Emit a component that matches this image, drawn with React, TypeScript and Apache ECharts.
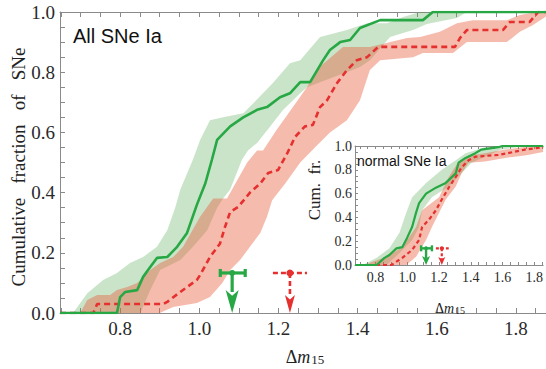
import React, { useEffect, useRef } from "react";
import * as echarts from "echarts";

type P = [number, number];

// ---- axis ticks / labels ----
const mainXLabels = [0.8, 1.0, 1.2, 1.4, 1.6, 1.8];
const mainXTicks = [0.65, 0.7, 0.75, 0.8, 0.85, 0.9, 0.95, 1.0, 1.05, 1.1, 1.15, 1.2, 1.25, 1.3, 1.35, 1.4, 1.45, 1.5, 1.55, 1.6, 1.65, 1.7, 1.75, 1.8, 1.85];
const yTicks = [0, 0.05, 0.1, 0.15, 0.2, 0.25, 0.3, 0.35, 0.4, 0.45, 0.5, 0.55, 0.6, 0.65, 0.7, 0.75, 0.8, 0.85, 0.9, 0.95, 1.0];
const insetXLabels = [0.8, 1.0, 1.2, 1.4, 1.6, 1.8];
const insetXTicks = [0.7, 0.75, 0.8, 0.85, 0.9, 0.95, 1.0, 1.05, 1.1, 1.15, 1.2, 1.25, 1.3, 1.35, 1.4, 1.45, 1.5, 1.55, 1.6, 1.65, 1.7, 1.75, 1.8, 1.85];

// ---- main panel: All SNe Ia ----
const allGreenLine: P[] = [[0.648, 0], [0.792, 0], [0.8, 0.053], [0.813, 0.07], [0.843, 0.076], [0.858, 0.12], [0.876, 0.153], [0.893, 0.183], [0.919, 0.186], [0.944, 0.22], [0.969, 0.266], [0.994, 0.36], [1.015, 0.43], [1.032, 0.51], [1.045, 0.575], [1.078, 0.62], [1.111, 0.65], [1.146, 0.675], [1.171, 0.684], [1.204, 0.717], [1.229, 0.73], [1.255, 0.767], [1.28, 0.767], [1.313, 0.84], [1.33, 0.874], [1.356, 0.9], [1.381, 0.907], [1.406, 0.947], [1.457, 0.973], [1.565, 0.973], [1.59, 1.0], [1.876, 1.0]];
const allGreenUpper: P[] = [[0.681, 0], [0.717, 0.066], [0.757, 0.11], [0.792, 0.133], [0.825, 0.166], [0.858, 0.186], [0.893, 0.22], [0.919, 0.275], [0.939, 0.35], [0.952, 0.41], [0.984, 0.51], [1.002, 0.575], [1.027, 0.64], [1.06, 0.65], [1.111, 0.664], [1.146, 0.71], [1.186, 0.764], [1.229, 0.83], [1.255, 0.84], [1.305, 0.917], [1.373, 0.94], [1.424, 0.963], [1.474, 0.963], [1.515, 0.983], [1.558, 1.0], [1.876, 1.0]];
const allGreenLower: P[] = [[0.851, 0], [0.876, 0.076], [0.901, 0.143], [0.952, 0.176], [0.984, 0.22], [1.02, 0.275], [1.045, 0.35], [1.06, 0.38], [1.078, 0.41], [1.108, 0.51], [1.123, 0.54], [1.146, 0.565], [1.179, 0.62], [1.212, 0.675], [1.255, 0.73], [1.272, 0.75], [1.406, 0.817], [1.431, 0.84], [1.482, 0.917], [1.54, 0.94], [1.575, 0.96], [1.651, 0.98], [1.676, 1.0], [1.876, 1.0]];
const allRedLine: P[] = [[0.648, 0], [0.732, 0], [0.742, 0.03], [0.909, 0.03], [0.919, 0.037], [0.952, 0.07], [0.994, 0.11], [1.002, 0.126], [1.027, 0.186], [1.052, 0.23], [1.065, 0.286], [1.078, 0.336], [1.098, 0.352], [1.128, 0.4], [1.154, 0.43], [1.174, 0.465], [1.199, 0.475], [1.222, 0.53], [1.242, 0.585], [1.267, 0.62], [1.287, 0.625], [1.305, 0.684], [1.323, 0.707], [1.348, 0.764], [1.373, 0.807], [1.398, 0.84], [1.424, 0.85], [1.452, 0.884], [1.646, 0.884], [1.659, 0.914], [1.676, 0.94], [1.767, 0.94], [1.785, 0.967], [1.835, 0.967], [1.856, 1.0], [1.876, 1.0]];
const allRedUpper: P[] = [[0.699, 0], [0.717, 0.043], [0.742, 0.06], [0.775, 0.06], [0.792, 0.076], [0.818, 0.086], [0.843, 0.1], [0.876, 0.143], [0.901, 0.166], [0.934, 0.186], [0.959, 0.22], [1.002, 0.32], [1.035, 0.38], [1.07, 0.38], [1.121, 0.5], [1.146, 0.54], [1.161, 0.54], [1.196, 0.61], [1.229, 0.67], [1.272, 0.75], [1.297, 0.81], [1.363, 0.884], [1.431, 0.884], [1.525, 0.914], [1.558, 0.917], [1.608, 0.934], [1.651, 0.963], [1.691, 0.973], [1.777, 0.973], [1.81, 0.99], [1.853, 1.0], [1.876, 1.0]];
const allRedLower: P[] = [[0.9, 0], [0.934, 0.02], [0.994, 0.033], [1.027, 0.053], [1.058, 0.1], [1.078, 0.143], [1.103, 0.176], [1.128, 0.22], [1.154, 0.266], [1.171, 0.32], [1.184, 0.375], [1.217, 0.43], [1.255, 0.5], [1.292, 0.55], [1.33, 0.6], [1.373, 0.64], [1.406, 0.707], [1.431, 0.807], [1.457, 0.84], [1.54, 0.85], [1.565, 0.864], [1.641, 0.864], [1.676, 0.9], [1.777, 0.9], [1.81, 0.934], [1.843, 0.957], [1.876, 0.985]];

// ---- inset: normal SNe Ia ----
const normGreenLine: P[] = [[0.67, 0], [0.806, 0], [0.856, 0.06], [0.887, 0.084], [0.931, 0.14], [0.968, 0.15], [0.999, 0.23], [1.03, 0.32], [1.055, 0.44], [1.074, 0.52], [1.118, 0.6], [1.18, 0.65], [1.242, 0.69], [1.305, 0.77], [1.323, 0.86], [1.367, 0.9], [1.429, 0.94], [1.467, 0.97], [1.573, 0.99], [1.6, 1.0], [1.856, 1.0]];
const normGreenUpper: P[] = [[0.72, 0], [0.806, 0.06], [0.887, 0.14], [0.95, 0.27], [0.993, 0.44], [1.03, 0.57], [1.118, 0.69], [1.217, 0.8], [1.305, 0.88], [1.367, 0.94], [1.49, 0.99], [1.55, 1.0], [1.856, 1.0]];
const normGreenLower: P[] = [[0.868, 0], [0.95, 0.1], [1.03, 0.21], [1.074, 0.32], [1.093, 0.46], [1.155, 0.57], [1.261, 0.66], [1.342, 0.77], [1.404, 0.86], [1.49, 0.91], [1.59, 0.97], [1.697, 0.99], [1.75, 1.0], [1.856, 1.0]];
const normRedLine: P[] = [[0.67, 0], [0.9, 0], [0.968, 0.06], [1.03, 0.126], [1.074, 0.21], [1.093, 0.32], [1.136, 0.38], [1.18, 0.46], [1.217, 0.55], [1.261, 0.65], [1.305, 0.74], [1.342, 0.82], [1.386, 0.88], [1.429, 0.91], [1.573, 0.925], [1.635, 0.94], [1.741, 0.97], [1.856, 0.99]];
const normRedUpper: P[] = [[0.74, 0], [0.76, 0.017], [0.868, 0.07], [0.968, 0.15], [1.055, 0.32], [1.093, 0.46], [1.2, 0.57], [1.261, 0.74], [1.323, 0.87], [1.386, 0.92], [1.49, 0.94], [1.616, 0.97], [1.78, 1.0], [1.856, 1.0]];
const normRedLower: P[] = [[0.993, 0], [1.055, 0.07], [1.118, 0.21], [1.155, 0.32], [1.2, 0.44], [1.242, 0.55], [1.305, 0.66], [1.342, 0.77], [1.386, 0.86], [1.49, 0.87], [1.616, 0.9], [1.741, 0.92], [1.856, 0.95]];

// ---- median markers: [centre, low, high, level] ----
const allGreenMarker = [[1.083, 1.053, 1.116, 0.133]];
const allRedMarker = [[1.229, 1.186, 1.272, 0.133]];
const normGreenMarker = [[1.118, 1.087, 1.155, 0.14]];
const normRedMarker = [[1.217, 1.18, 1.261, 0.14]];

const GREEN = "#27a844";
const RED = "#e5302f";
const GREEN_BAND = "rgba(80,165,80,0.30)";
const RED_BAND = "rgba(232,92,60,0.42)";
const AXIS = "#8a8a8a";
const SERIF = "Liberation Serif";
const SANS = "Liberation Sans";

function band(upper: P[], lower: P[], fill: string, ax: number, z: number, blend?: string) {
  return {
    type: "custom",
    xAxisIndex: ax,
    yAxisIndex: ax,
    z,
    silent: true,
    data: [[upper[0][0], upper[0][1]]],
    renderItem: (_p: any, api: any) => {
      const pts = [...upper, ...lower.slice().reverse()].map((p) => api.coord(p));
      const style: any = { fill };
      if (blend) style.blend = blend;
      return { type: "polygon", shape: { points: pts }, style };
    },
  };
}

function line(data: P[], color: string, dashed: boolean, ax: number, w: number, dash: number[]) {
  return {
    type: "line",
    xAxisIndex: ax,
    yAxisIndex: ax,
    z: 6,
    data,
    symbol: "none",
    silent: true,
    lineStyle: { color, width: w, type: dashed ? dash : "solid" },
  };
}

function marker(data: number[][], color: string, dashed: boolean, ax: number, s: any) {
  return {
    type: "custom",
    xAxisIndex: ax,
    yAxisIndex: ax,
    z: 8,
    silent: true,
    data,
    renderItem: (_p: any, api: any) => {
      const c = api.value(0), lo = api.value(1), hi = api.value(2), lev = api.value(3);
      const pc = api.coord([c, lev]);
      const pl = api.coord([lo, lev]);
      const ph = api.coord([hi, lev]);
      const pb = api.coord([c, 0]);
      const ls: any = { stroke: color, lineWidth: s.lw, fill: null };
      if (dashed) ls.lineDash = s.dash;
      const children: any[] = [
        { type: "line", shape: { x1: pl[0], y1: pl[1], x2: ph[0], y2: ph[1] }, style: ls },
        { type: "line", shape: { x1: pc[0], y1: pc[1], x2: pc[0], y2: pb[1] - s.head + 2 }, style: ls },
        { type: "polygon", shape: { points: [[pc[0] - s.hw, pb[1] - s.head], [pc[0], pb[1] - s.head * 0.75], [pc[0] + s.hw, pb[1] - s.head], [pc[0], pb[1]]] }, style: { fill: color } },
        { type: "circle", shape: { cx: pc[0], cy: pc[1], r: s.r }, style: { fill: color } },
      ];
      if (!dashed) {
        children.push({ type: "line", shape: { x1: pl[0], y1: pl[1] - s.cap, x2: pl[0], y2: pl[1] + s.cap }, style: { stroke: color, lineWidth: s.lw } });
        children.push({ type: "line", shape: { x1: ph[0], y1: ph[1] - s.cap, x2: ph[0], y2: ph[1] + s.cap }, style: { stroke: color, lineWidth: s.lw } });
      }
      return { type: "group", children };
    },
  };
}

function dm(x: number, y: number, big: number, small: number) {
  return {
    type: "text",
    x,
    y,
    z: 30,
    style: {
      text: "{d|Δ}{m|m}{s|15}",
      align: "center",
      verticalAlign: "middle",
      rich: {
        d: { fontFamily: SERIF, fontSize: big, fill: "#222", verticalAlign: "bottom", lineHeight: big + 6 },
        m: { fontFamily: SERIF, fontStyle: "italic", fontSize: big, fill: "#222", verticalAlign: "bottom", lineHeight: big + 6 },
        s: { fontFamily: SERIF, fontSize: small, fill: "#222", verticalAlign: "bottom", lineHeight: small, padding: [0, 0, 0, 1] },
      },
    },
  };
}

export default function App() {
  const ref = useRef<HTMLDivElement>(null);
  useEffect(() => {
    if (!ref.current) return;
    const chart = echarts.init(ref.current, undefined, { renderer: "svg" });
    const axisLine = { show: true, lineStyle: { color: AXIS, width: 1 } };
    const option: any = {
      animation: false,
      backgroundColor: "#fff",
      textStyle: { fontFamily: SERIF },
      grid: [
        { left: 60, top: 12, width: 486, height: 301, containLabel: false },
        { left: 355, top: 146, width: 191, height: 119, containLabel: false },
      ],
      xAxis: [
        {
          gridIndex: 0, type: "value", min: 0.648, max: 1.876, position: "bottom",
          axisLine, splitLine: { show: false },
          axisTick: { show: true, inside: true, length: 5, lineStyle: { color: AXIS }, customValues: mainXTicks },
          axisLabel: { customValues: mainXLabels, formatter: (v: number) => v.toFixed(1), fontFamily: SERIF, fontSize: 19, color: "#2a2a2a", margin: 6 },
        },
        {
          gridIndex: 1, type: "value", min: 0.67, max: 1.856, position: "bottom", z: 20,
          axisLine, splitLine: { show: false },
          axisTick: { show: true, inside: true, length: 3, lineStyle: { color: AXIS }, customValues: insetXTicks },
          axisLabel: { customValues: insetXLabels, formatter: (v: number) => v.toFixed(1), fontFamily: SERIF, fontSize: 14, color: "#2a2a2a", margin: 5 },
        },
        {
          gridIndex: 0, type: "value", min: 0.648, max: 1.876, position: "top",
          axisLine, splitLine: { show: false },
          axisTick: { show: true, inside: true, length: 5, lineStyle: { color: AXIS }, customValues: mainXTicks },
          axisLabel: { show: false },
        },
        {
          gridIndex: 1, type: "value", min: 0.67, max: 1.856, position: "top", z: 20,
          axisLine, splitLine: { show: false },
          axisTick: { show: true, inside: true, length: 3, lineStyle: { color: AXIS }, customValues: insetXTicks },
          axisLabel: { show: false },
        },
      ],
      yAxis: [
        {
          gridIndex: 0, type: "value", min: 0, max: 1, interval: 0.2,
          axisLine, splitLine: { show: false },
          axisTick: { show: true, inside: true, length: 5, lineStyle: { color: AXIS }, customValues: yTicks },
          axisLabel: { formatter: (v: number) => v.toFixed(1), fontFamily: SERIF, fontSize: 19, color: "#2a2a2a", margin: 5 },
        },
        {
          gridIndex: 1, type: "value", min: 0, max: 1, interval: 0.2, z: 20,
          axisLine, splitLine: { show: false },
          axisTick: { show: true, inside: true, length: 3, lineStyle: { color: AXIS }, customValues: yTicks },
          axisLabel: { formatter: (v: number) => v.toFixed(1), fontFamily: SERIF, fontSize: 14, color: "#2a2a2a", margin: 3 },
        },
      ],
      graphic: [
        { type: "text", x: 73, y: 36, z: 30, style: { text: "All SNe Ia", fontFamily: SANS, fontSize: 20, fill: "#111", verticalAlign: "middle" } },
        { type: "text", x: 357, y: 161, z: 30, style: { text: "normal SNe Ia", fontFamily: SANS, fontSize: 14, fill: "#111", verticalAlign: "middle" } },
        { type: "text", x: 18, y: 167, rotation: Math.PI / 2, z: 30, style: { text: "Cumulative   fraction   of   SNe", fontFamily: SERIF, fontSize: 19, fill: "#222", align: "center", verticalAlign: "middle" } },
        { type: "text", x: 314, y: 190, rotation: Math.PI / 2, z: 30, style: { text: "Cum.  fr.", fontFamily: SERIF, fontSize: 17, fill: "#222", align: "center", verticalAlign: "middle" } },
        dm(305, 354, 18, 13),
        dm(450, 305, 14, 10),
      ],
      series: [
        band(allGreenUpper, allGreenLower, GREEN_BAND, 0, 2),
        band(allRedUpper, allRedLower, RED_BAND, 0, 3, "multiply"),
        line(allRedLine, RED, true, 0, 2.6, [6, 4]),
        line(allGreenLine, GREEN, false, 0, 2.6, [6, 4]),
        marker(allGreenMarker, GREEN, false, 0, { lw: 3.2, head: 23, hw: 6.5, r: 3, cap: 4, dash: [5, 3] }),
        marker(allRedMarker, RED, true, 0, { lw: 2.6, head: 18, hw: 5, r: 3.5, cap: 4, dash: [5, 3] }),
        band(normGreenUpper, normGreenLower, GREEN_BAND, 1, 22),
        band(normRedUpper, normRedLower, RED_BAND, 1, 23, "multiply"),
        { ...line(normRedLine, RED, true, 1, 2.2, [4, 3]), z: 24 },
        { ...line(normGreenLine, GREEN, false, 1, 2.2, [4, 3]), z: 24 },
        { ...marker(normGreenMarker, GREEN, false, 1, { lw: 2.4, head: 9, hw: 4, r: 2, cap: 3, dash: [3, 2] }), z: 25 },
        { ...marker(normRedMarker, RED, true, 1, { lw: 2.2, head: 8, hw: 3.5, r: 2, cap: 3, dash: [3, 2] }), z: 25 },
      ],
    };
    chart.setOption(option);
    return () => chart.dispose();
  }, []);
  return <div ref={ref} style={{ position: "absolute", left: 0, top: 0, width: 546, height: 369 }} />;
}
